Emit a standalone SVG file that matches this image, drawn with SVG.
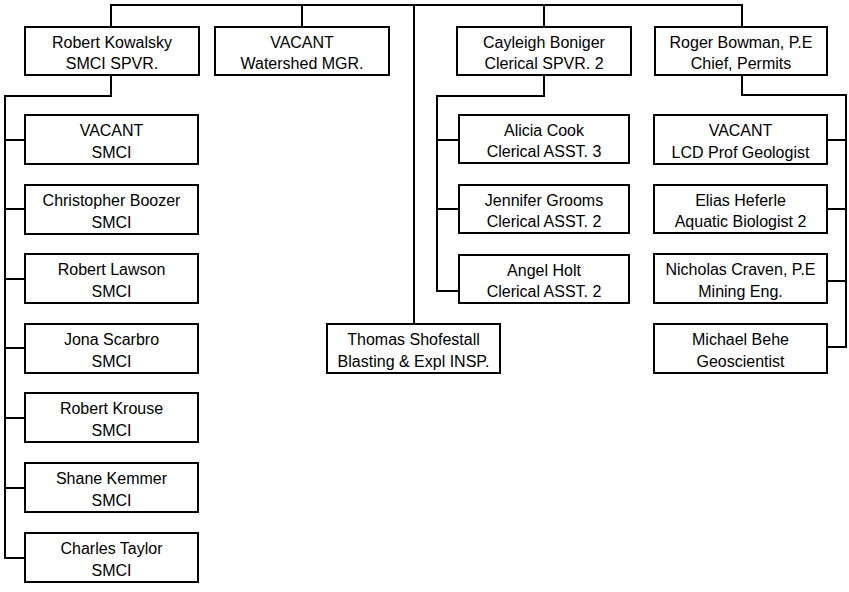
<svg xmlns="http://www.w3.org/2000/svg" width="849" height="592" viewBox="0 0 849 592">
<style>
.box{fill:#fff;stroke:#000;stroke-width:2}
.ln{fill:none;stroke:#000;stroke-width:2;stroke-linecap:square}
text{font-family:"Liberation Sans",Arial,sans-serif;font-size:16px;fill:#000;text-anchor:middle}
</style>
<rect width="849" height="592" fill="#fff"/>
<g id="connectors">
<path class="ln" d="M111 5H742"/>
<path class="ln" d="M111 5V27M302 5V27M544 5V27M742 5V27M414 5V324"/>
<path class="ln" d="M111 75V96H5V558"/>
<path class="ln" d="M5 140H25M5 209H25M5 279H25M5 348H25M5 418H25M5 488H25M5 558H25"/>
<path class="ln" d="M544 75V96H437V291"/>
<path class="ln" d="M437 140H459M437 209H459M437 291H459"/>
<path class="ln" d="M742 75V95H846V347"/>
<path class="ln" d="M827 140H846M827 209H846M827 281H846M827 347H846"/>
</g>
<g id="kowalsky"><rect class="box" x="25" y="27" width="174" height="48"/><text x="112" y="48">Robert Kowalsky</text><text x="112" y="69">SMCI SPVR.</text></g>
<g id="watershed"><rect class="box" x="215" y="27" width="174" height="48"/><text x="302" y="48">VACANT</text><text x="302" y="69">Watershed MGR.</text></g>
<g id="boniger"><rect class="box" x="457" y="27" width="174" height="48"/><text x="544" y="48">Cayleigh Boniger</text><text x="544" y="69">Clerical SPVR. 2</text></g>
<g id="bowman"><rect class="box" x="655" y="27" width="172" height="48"/><text x="741" y="48">Roger Bowman, P.E</text><text x="741" y="69">Chief, Permits</text></g>

<g id="smci-vacant"><rect class="box" x="25" y="115" width="173" height="49"/><text x="111.5" y="136">VACANT</text><text x="111.5" y="158">SMCI</text></g>
<g id="boozer"><rect class="box" x="25" y="185" width="173" height="49"/><text x="111.5" y="206">Christopher Boozer</text><text x="111.5" y="228">SMCI</text></g>
<g id="lawson"><rect class="box" x="25" y="254" width="173" height="49"/><text x="111.5" y="275">Robert Lawson</text><text x="111.5" y="297">SMCI</text></g>
<g id="scarbro"><rect class="box" x="25" y="324" width="173" height="49"/><text x="111.5" y="345">Jona Scarbro</text><text x="111.5" y="367">SMCI</text></g>
<g id="krouse"><rect class="box" x="25" y="393" width="173" height="49"/><text x="111.5" y="414">Robert Krouse</text><text x="111.5" y="436">SMCI</text></g>
<g id="kemmer"><rect class="box" x="25" y="463" width="173" height="49"/><text x="111.5" y="484">Shane Kemmer</text><text x="111.5" y="506">SMCI</text></g>
<g id="taylor"><rect class="box" x="25" y="533" width="173" height="49"/><text x="111.5" y="554">Charles Taylor</text><text x="111.5" y="576">SMCI</text></g>

<g id="shofestall"><rect class="box" x="327" y="324" width="173" height="49"/><text x="413.5" y="345">Thomas Shofestall</text><text x="413.5" y="367">Blasting &amp; Expl INSP.</text></g>

<g id="cook"><rect class="box" x="459" y="115" width="170" height="48"/><text x="544" y="136">Alicia Cook</text><text x="544" y="157">Clerical ASST. 3</text></g>
<g id="grooms"><rect class="box" x="459" y="185" width="170" height="48"/><text x="544" y="206">Jennifer Grooms</text><text x="544" y="227">Clerical ASST. 2</text></g>
<g id="holt"><rect class="box" x="459" y="255" width="170" height="48"/><text x="544" y="276">Angel Holt</text><text x="544" y="297">Clerical ASST. 2</text></g>

<g id="lcd-vacant"><rect class="box" x="654" y="115" width="173" height="49"/><text x="740.5" y="136">VACANT</text><text x="740.5" y="158">LCD Prof Geologist</text></g>
<g id="heferle"><rect class="box" x="654" y="185" width="173" height="48"/><text x="740.5" y="206">Elias Heferle</text><text x="740.5" y="227">Aquatic Biologist 2</text></g>
<g id="craven"><rect class="box" x="654" y="254" width="173" height="49"/><text x="740.5" y="275">Nicholas Craven, P.E</text><text x="740.5" y="297">Mining Eng.</text></g>
<g id="behe"><rect class="box" x="654" y="324" width="173" height="49"/><text x="740.5" y="345">Michael Behe</text><text x="740.5" y="367">Geoscientist</text></g>
</svg>
